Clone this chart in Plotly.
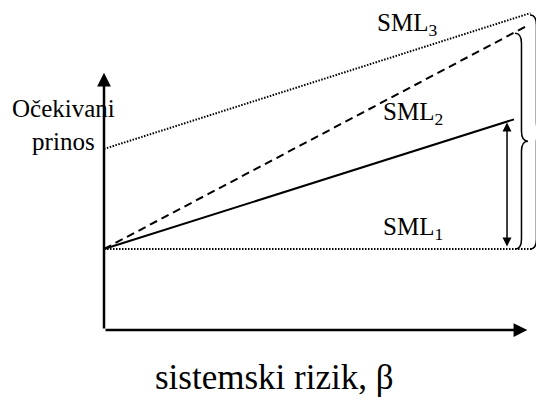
import plotly.graph_objects as go

# data (beta on x, expected return on y, arbitrary units)
rf = 4.0
sml1_beta = [0.0, 2.09]
sml1_ret = [4.0, 4.0]
sml2_beta = [0.0, 2.0]
sml2_ret = [4.0, 10.4]
dashed_beta = [0.0, 2.06]
dashed_ret = [4.0, 15.0]
sml3_beta = [0.0, 2.08]
sml3_ret = [8.94, 15.65]
x_axis_end = 2.065
y_axis_end = 12.7

line_labels = ["SML<sub>1</sub>", "SML<sub>2</sub>", "SML<sub>3</sub>"]
label_beta = [1.507, 1.507, 1.478]
label_ret = [5.0, 10.7, 15.1]

FONT = "Times New Roman, Liberation Serif, serif"

fig = go.Figure()
fig.add_trace(go.Scatter(x=sml1_beta, y=sml1_ret, mode="lines",
                         line=dict(color="black", width=2, dash="1.5px,1.5px")))
fig.add_trace(go.Scatter(x=sml2_beta, y=sml2_ret, mode="lines",
                         line=dict(color="black", width=2)))
fig.add_trace(go.Scatter(x=dashed_beta, y=dashed_ret, mode="lines",
                         line=dict(color="black", width=2, dash="8px,5px")))
fig.add_trace(go.Scatter(x=sml3_beta, y=sml3_ret, mode="lines",
                         line=dict(color="black", width=2, dash="1.5px,1.5px")))

# axes drawn as arrows
arrow = dict(xref="x", yref="y", axref="x", ayref="y", text="", showarrow=True,
             arrowhead=2, arrowsize=1.1, arrowwidth=2.5, arrowcolor="black", standoff=0)
fig.add_annotation(x=0, y=y_axis_end, ax=0, ay=0, **arrow)
fig.add_annotation(x=x_axis_end, y=0, ax=0, ay=0, **arrow)

# double arrow between rf and SML2 end
fig.add_annotation(x=1.966, y=sml2_ret[1] - 0.15, ax=1.966, ay=rf + 0.05,
                   xref="x", yref="y", axref="x", ayref="y", text="", showarrow=True,
                   arrowhead=2, startarrowhead=2, arrowside="end+start",
                   arrowsize=1.2, startarrowsize=1.2, arrowwidth=1.5,
                   arrowcolor="black", standoff=0, startstandoff=0)


def brace(x_left, top, bot, w=0.063, d=0.5):
    xm = x_left + w / 2
    xt = x_left + w
    ym = (top + bot) / 2
    return (f"M {x_left},{top} Q {xm},{top} {xm},{top - d} L {xm},{ym + d} "
            f"Q {xm},{ym} {xt},{ym} Q {xm},{ym} {xm},{ym - d} L {xm},{bot + d} "
            f"Q {xm},{bot} {x_left},{bot}")


fig.add_shape(type="path", path=brace(2.005, dashed_ret[1] - 0.35, rf), xref="x", yref="y",
              line=dict(color="black", width=1.5))
fig.add_shape(type="path", path=brace(2.078, sml3_ret[1] - 0.1, rf), xref="x", yref="y",
              line=dict(color="black", width=1.5))

for txt, bx, ry in zip(line_labels, label_beta, label_ret):
    fig.add_annotation(x=bx, y=ry, text=txt, showarrow=False,
                       font=dict(family=FONT, size=25, color="black"))

fig.add_annotation(x=-0.2, y=10.1, text="Očekivani<br>prinos", showarrow=False,
                   font=dict(family=FONT, size=25, color="black"))
fig.add_annotation(x=0.83, y=-2.37, text="sistemski rizik, β", showarrow=False,
                   font=dict(family=FONT, size=35, color="black"))

fig.update_layout(
    width=536, height=405,
    margin=dict(l=0, r=0, t=0, b=0),
    paper_bgcolor="white", plot_bgcolor="white",
    showlegend=False,
    xaxis=dict(range=[-104 / 205, 432 / 205], visible=False),
    yaxis=dict(range=[-75 / 20.25, 330 / 20.25], visible=False),
)

fig.write_html("out.html", config={"displayModeBar": False},
               post_script="document.body.style.margin='0';")
